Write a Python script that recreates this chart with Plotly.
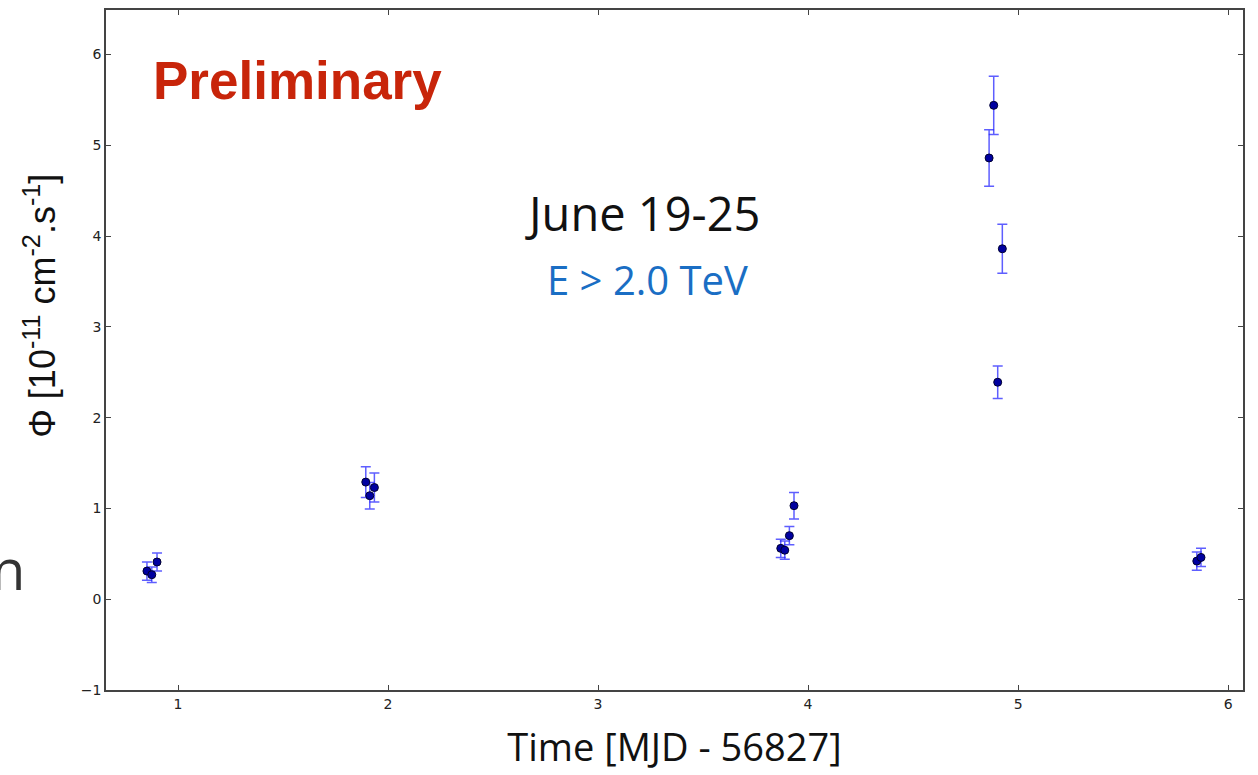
import plotly.graph_objects as go

# Light-curve points: time (MJD - 56827), flux (1e-11 cm^-2 s^-1), symmetric error
time = [0.852, 0.875, 0.900,
        1.894, 1.913, 1.935,
        3.870, 3.889, 3.911, 3.933,
        4.862, 4.884, 4.903, 4.925,
        5.851, 5.871]
flux = [0.31, 0.27, 0.41,
        1.29, 1.14, 1.23,
        0.56, 0.54, 0.70, 1.03,
        4.86, 5.44, 2.39, 3.86,
        0.42, 0.46]
flux_err = [0.10, 0.085, 0.10,
            0.17, 0.145, 0.16,
            0.10, 0.10, 0.10, 0.146,
            0.31, 0.32, 0.18, 0.27,
            0.10, 0.10]

x_ticks = [1, 2, 3, 4, 5, 6]
y_ticks = [-1, 0, 1, 2, 3, 4, 5, 6]

fig = go.Figure()
fig.add_trace(go.Scatter(
    x=time, y=flux, mode="markers",
    marker=dict(color="#0000a0", size=8, line=dict(color="#000030", width=1)),
    error_y=dict(type="data", array=flux_err, visible=True,
                 color="rgba(40,40,255,0.75)", thickness=1.5, width=5),
    showlegend=False,
))

axis_common = dict(
    showgrid=False, zeroline=False, showline=True, linecolor="#444",
    linewidth=1.5, mirror="allticks", ticks="inside", ticklen=5,
    tickcolor="#444", tickfont=dict(family="DejaVu Sans", size=14, color="#222"),
)
fig.update_xaxes(range=[0.657, 6.071], tickvals=x_ticks, **axis_common,
                 title=dict(text="Time [MJD - 56827]",
                            font=dict(family="Open Sans", size=38, color="#111"),
                            standoff=24))
fig.update_yaxes(range=[-1, 6.49], tickvals=y_ticks,
                 ticktext=["\u22121" if v < 0 else str(v) for v in y_ticks],
                 **axis_common)

# Vertical axis title, placed by hand so it sits a little above the axis centre
fig.add_annotation(text="\u03a6 [10<sup>-11</sup> cm<sup>-2</sup>.s<sup>-1</sup>]",
                   xref="paper", yref="paper", x=-0.058, y=0.565,
                   xanchor="center", yanchor="middle", textangle=-90,
                   showarrow=False,
                   font=dict(family="Liberation Sans", size=36, color="#111"))

fig.add_annotation(text="<b>Preliminary</b>", xref="paper", yref="paper",
                   x=0.040, y=0.896, xanchor="left", yanchor="middle",
                   showarrow=False,
                   font=dict(family="Liberation Sans", size=53, color="#c8250a"))
fig.add_annotation(text="June 19-25", xref="paper", yref="paper",
                   x=0.472, y=0.702, xanchor="center", yanchor="middle",
                   showarrow=False,
                   font=dict(family="Open Sans", size=47, color="#111"))
fig.add_annotation(text="E > 2.0 TeV", xref="paper", yref="paper",
                   x=0.476, y=0.603, xanchor="center", yanchor="middle",
                   showarrow=False,
                   font=dict(family="Open Sans", size=40, color="#1a6ec4"))
fig.add_annotation(text="n", xref="paper", yref="paper",
                   x=-0.086, y=0.18, xanchor="center", yanchor="middle",
                   showarrow=False,
                   font=dict(family="Open Sans", size=56, color="#333"))

fig.update_layout(
    width=1258, height=775,
    margin=dict(l=106, r=15, t=8, b=85),
    paper_bgcolor="white", plot_bgcolor="white",
)

fig.write_html("out.html")
